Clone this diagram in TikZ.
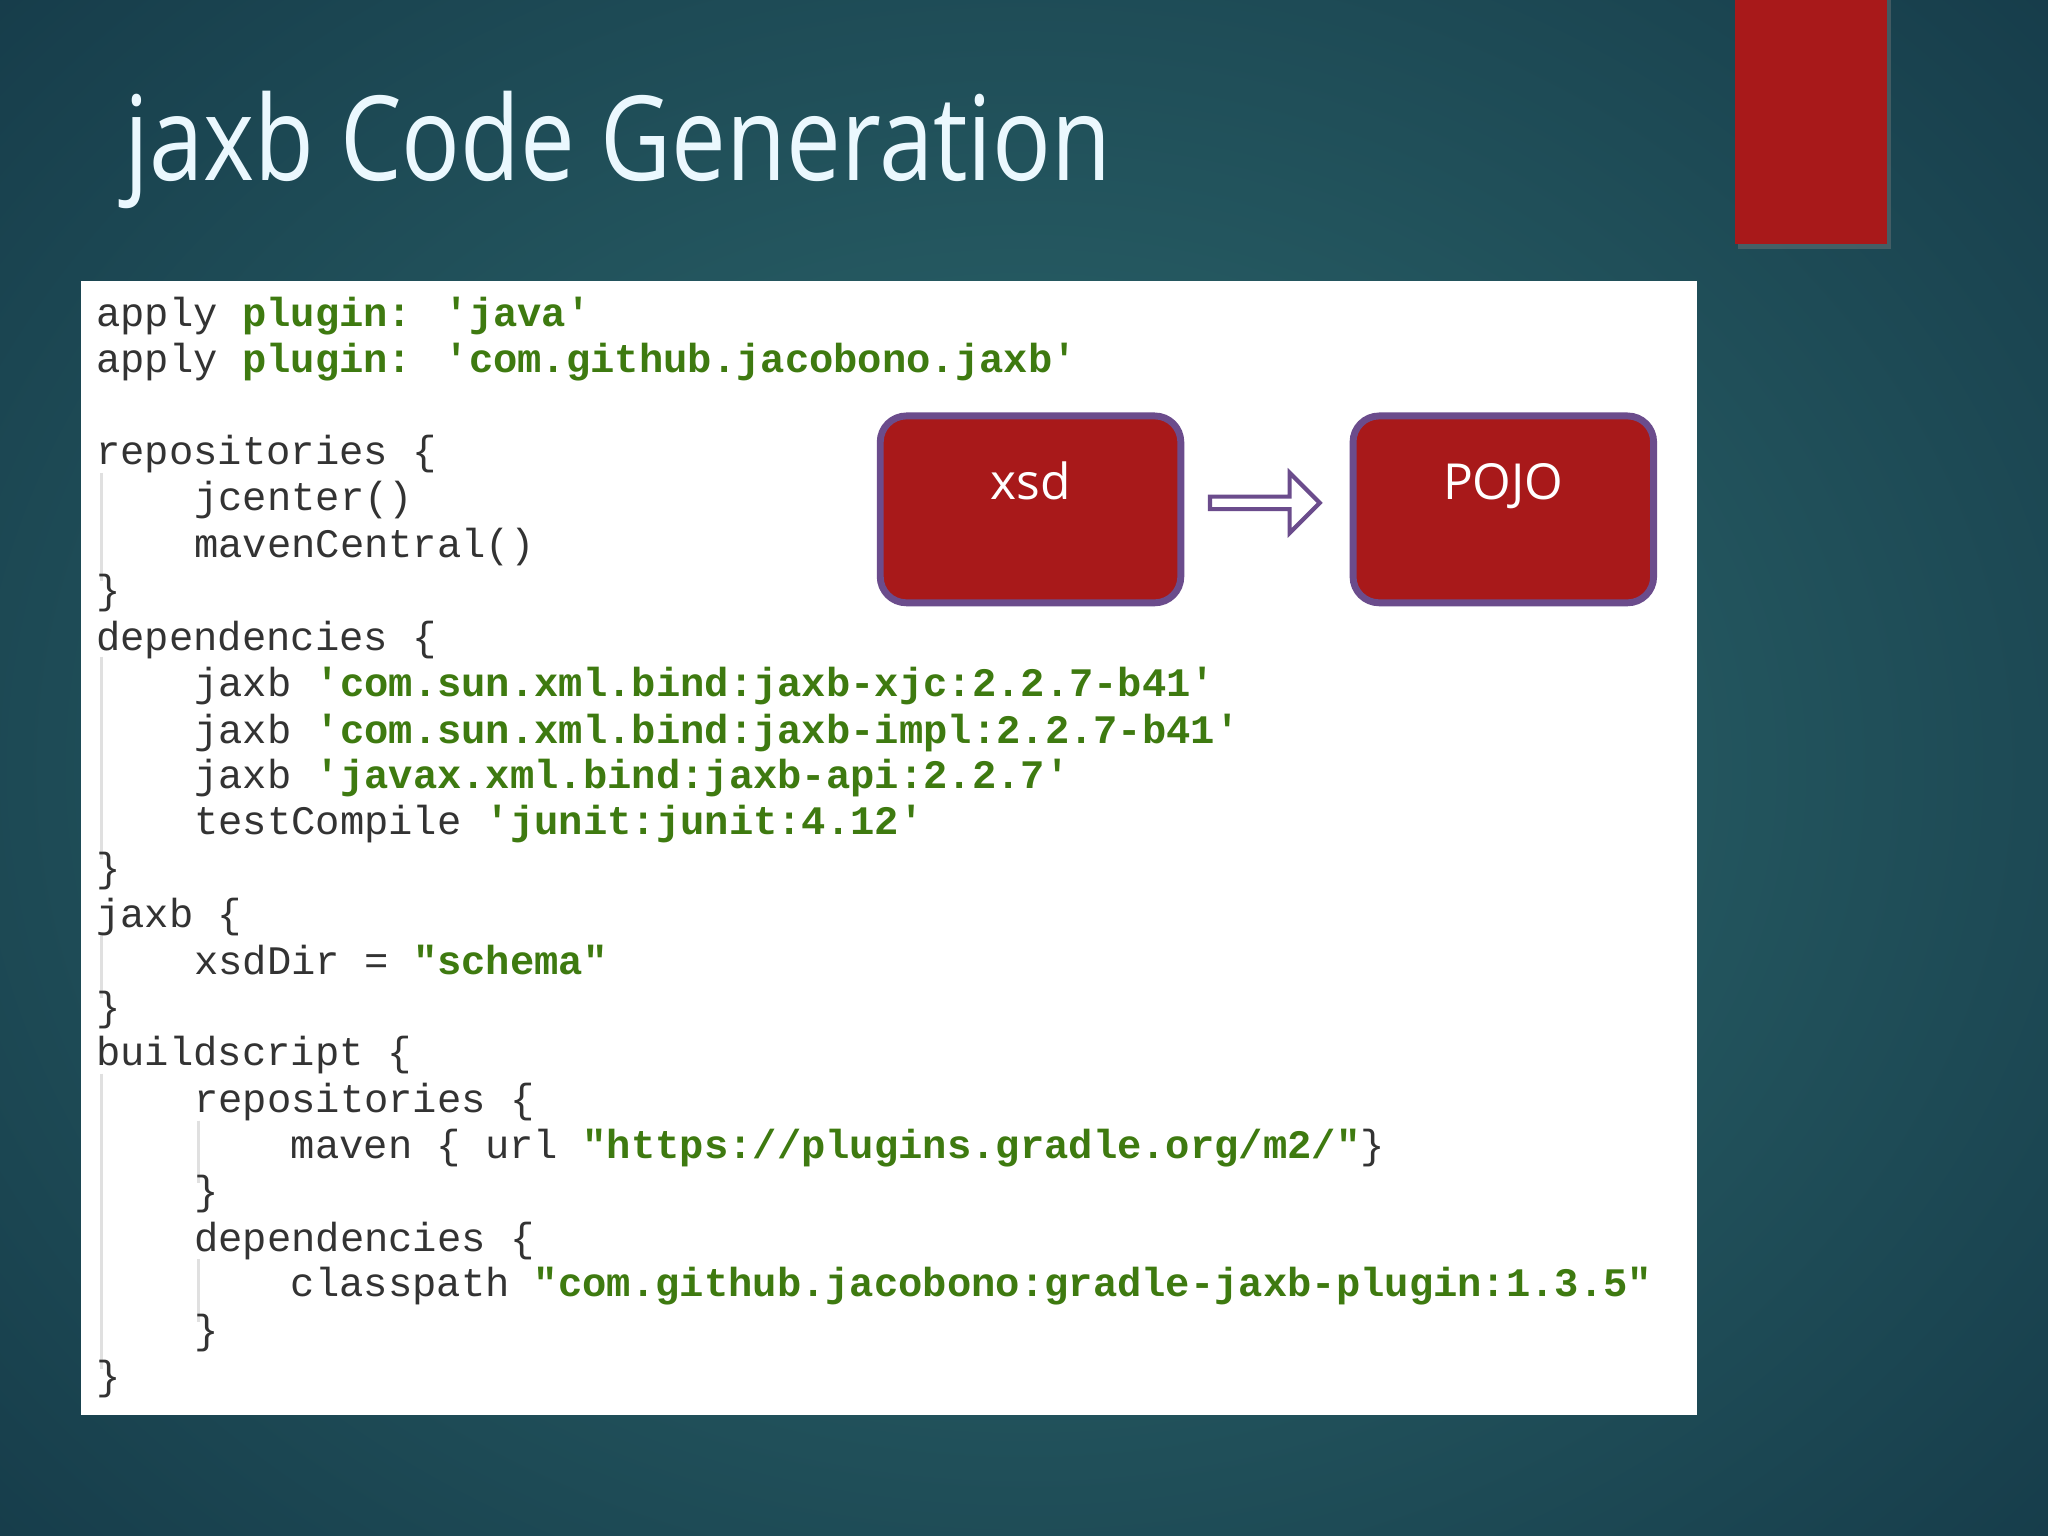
\documentclass[tikz,border=0pt]{standalone}
\usepackage{fontspec}
\setmainfont{Open Sans}
\newfontfamily\code{Liberation Mono}
\usetikzlibrary{shapes.arrows,shadows}
\definecolor{bgin}{HTML}{2F6C70}
\definecolor{bgout}{HTML}{163C4A}
\definecolor{slred}{HTML}{A8191A}
\definecolor{edgepur}{HTML}{6B4C8C}
\definecolor{cgreen}{HTML}{3E7A10}
\definecolor{cgray}{HTML}{333333}
\newcommand{\G}[1]{\textcolor{cgreen}{\bfseries #1}}
\tikzset{
  cl/.style={anchor=base west,inner sep=0pt,font=\code\fontsize{0.31cm}{0.36cm}\selectfont,text=cgray},
  redbox/.style={draw=edgepur,line width=1.5pt,fill=slred,rounded corners=0.2cm,minimum width=2.3cm,minimum height=1.43cm,text=white,font=\fontsize{0.38cm}{0.46cm}\selectfont},
  guide/.style={draw=black!12,line width=0.6pt}
}
\begin{document}
\begin{tikzpicture}[x=0.01cm,y=-0.01cm]
\useasboundingbox (0,0) rectangle (1568,1176);
\shade[inner color=bgin,outer color=bgout] (-300,-300) rectangle (1868,1476);
\fill[slred,drop shadow={opacity=0.4,shadow xshift=0.03cm,shadow yshift=-0.04cm}] (1328,-5) rectangle (1445,187);
\node[anchor=base west,inner sep=0pt,text=white!92!cyan,xscale=0.83,font=\fontsize{0.9cm}{1cm}\selectfont] (title) at (95,138) {jaxb Code Generation};
\fill[white] (62,215) rectangle (1299,1083);
% guides
\draw[guide] (78,362) -- (78,445);
\draw[guide] (78,503) -- (78,658);
\draw[guide] (78,716) -- (78,764);
\draw[guide] (78,822) -- (78,1048);
\draw[guide] (152,858) -- (152,906);
\draw[guide] (152,964) -- (152,1012);
% code
\node[cl] (l1) at (73,250) {apply \G{plugin:} \G{'java'}};
\node[cl] (l2) at (73,285) {apply \G{plugin:} \G{'com.github.jacobono.jaxb'}};
\node[cl] (l3) at (73,356) {repositories \{};
\node[cl] (l4) at (148,391) {jcenter()};
\node[cl] (l5) at (148,427) {mavenCentral()};
\node[cl] (l6) at (73,462) {\}};
\node[cl] (l7) at (73,498) {dependencies \{};
\node[cl] (l8) at (148,533) {jaxb \G{'com.sun.xml.bind:jaxb-xjc:2.2.7-b41'}};
\node[cl] (l9) at (148,569) {jaxb \G{'com.sun.xml.bind:jaxb-impl:2.2.7-b41'}};
\node[cl] (l10) at (148,604) {jaxb \G{'javax.xml.bind:jaxb-api:2.2.7'}};
\node[cl] (l11) at (148,639) {testCompile \G{'junit:junit:4.12'}};
\node[cl] (l12) at (73,675) {\}};
\node[cl] (l13) at (73,710) {jaxb \{};
\node[cl] (l14) at (148,746) {xsdDir = \G{"schema"}};
\node[cl] (l15) at (73,781) {\}};
\node[cl] (l16) at (73,816) {buildscript \{};
\node[cl] (l17) at (148,852) {repositories \{};
\node[cl] (l18) at (222,887) {maven \{ url \G{"https://plugins.gradle.org/m2/"}\}};
\node[cl] (l19) at (148,922) {\}};
\node[cl] (l20) at (148,958) {dependencies \{};
\node[cl] (l21) at (222,993) {classpath \G{"com.github.jacobono:gradle-jaxb-plugin:1.3.5"}};
\node[cl] (l22) at (148,1029) {\}};
\node[cl] (l23) at (73,1064) {\}};
% boxes
\node[redbox,text depth=0.45cm,text height=0.3cm] (xsd) at (789,390) {xsd};
\node[redbox,text depth=0.45cm,text height=0.3cm] (pojo) at (1151,390) {POJO};
\node[single arrow,draw=edgepur,fill=white,line width=0.9pt,minimum height=0.84cm,minimum width=0.46cm,single arrow head extend=0.06cm,inner sep=0pt] (arr) at (966,385) {};
\end{tikzpicture}
\end{document}
